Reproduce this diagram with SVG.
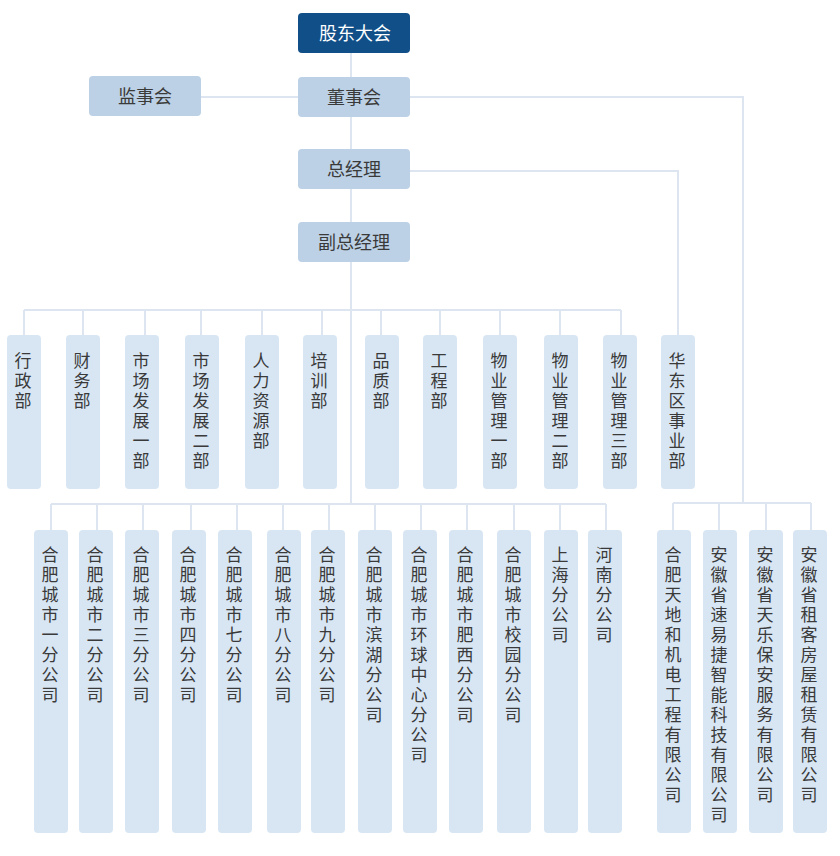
<svg xmlns="http://www.w3.org/2000/svg" width="840" height="856" viewBox="0 0 840 856">
<style>
.ln{stroke:#dde6f0;stroke-width:2;fill:none}
.top{fill:#bcd1e5}
.dark{fill:#114f88}
.bx{fill:#d8e6f4}
text{font-family:"Noto Sans CJK SC","Noto Sans",sans-serif;font-size:18px;fill:#3a3a3a;text-anchor:middle}
.w{fill:#ffffff}
.v{writing-mode:vertical-rl;text-anchor:start;letter-spacing:3px;font-size:17px}
</style>
<rect width="840" height="856" fill="#ffffff"/>
<g id="connectors">
<path class="ln" d="M351 53V504"/>
<path class="ln" d="M201 97H298"/>
<path class="ln" d="M410 97H743V503"/>
<path class="ln" d="M410 171H678V335"/>
<path class="ln" d="M24 310H621"/>
<path class="ln" d="M24 310V335M83 310V335M145 310V335M201 310V335M262 310V335M322 310V335M381 310V335M440 310V335M500 310V335M560 310V335M621 310V335"/>
<path class="ln" d="M51 504H606"/>
<path class="ln" d="M51 504V530M97 504V530M143 504V530M191 504V530M237 504V530M283 504V530M329 504V530M375 504V530M421 504V530M467 504V530M514 504V530M560 504V530M606 504V530"/>
<path class="ln" d="M673 503H811"/>
<path class="ln" d="M673 503V530M719 503V530M766 503V530M811 503V530"/>
</g>
<g id="n-gudong"><rect class="dark" x="298" y="13" width="112" height="40" rx="4"/><text class="w" x="355" y="40">股东大会</text></g>
<g id="n-jianshi"><rect class="top" x="89" y="76" width="112" height="40" rx="4"/><text x="145" y="103">监事会</text></g>
<g id="n-dongshi"><rect class="top" x="298" y="77" width="112" height="40" rx="4"/><text x="354" y="104">董事会</text></g>
<g id="n-zongjingli"><rect class="top" x="298" y="149" width="112" height="40" rx="4"/><text x="354" y="176">总经理</text></g>
<g id="n-fuzong"><rect class="top" x="298" y="222" width="112" height="40" rx="4"/><text x="354" y="249">副总经理</text></g>

<g id="d1"><rect class="bx" x="7" y="335" width="34" height="154" rx="4"/><text class="v" x="23" y="352">行政部</text></g>
<g id="d2"><rect class="bx" x="66" y="335" width="34" height="154" rx="4"/><text class="v" x="82" y="352">财务部</text></g>
<g id="d3"><rect class="bx" x="125" y="335" width="34" height="154" rx="4"/><text class="v" x="141" y="352">市场发展一部</text></g>
<g id="d4"><rect class="bx" x="185" y="335" width="34" height="154" rx="4"/><text class="v" x="201" y="352">市场发展二部</text></g>
<g id="d5"><rect class="bx" x="245" y="335" width="34" height="154" rx="4"/><text class="v" x="261" y="352">人力资源部</text></g>
<g id="d6"><rect class="bx" x="303" y="335" width="34" height="154" rx="4"/><text class="v" x="319" y="352">培训部</text></g>
<g id="d7"><rect class="bx" x="365" y="335" width="34" height="154" rx="4"/><text class="v" x="381" y="352">品质部</text></g>
<g id="d8"><rect class="bx" x="423" y="335" width="34" height="154" rx="4"/><text class="v" x="439" y="352">工程部</text></g>
<g id="d9"><rect class="bx" x="483" y="335" width="34" height="154" rx="4"/><text class="v" x="499" y="352">物业管理一部</text></g>
<g id="d10"><rect class="bx" x="544" y="335" width="34" height="154" rx="4"/><text class="v" x="560" y="352">物业管理二部</text></g>
<g id="d11"><rect class="bx" x="603" y="335" width="34" height="154" rx="4"/><text class="v" x="619" y="352">物业管理三部</text></g>
<g id="d12"><rect class="bx" x="661" y="335" width="34" height="154" rx="4"/><text class="v" x="677" y="352">华东区事业部</text></g>

<g id="b1"><rect class="bx" x="34" y="530" width="34" height="303" rx="4"/><text class="v" x="50" y="546">合肥城市一分公司</text></g>
<g id="b2"><rect class="bx" x="79" y="530" width="34" height="303" rx="4"/><text class="v" x="95" y="546">合肥城市二分公司</text></g>
<g id="b3"><rect class="bx" x="125" y="530" width="34" height="303" rx="4"/><text class="v" x="141" y="546">合肥城市三分公司</text></g>
<g id="b4"><rect class="bx" x="172" y="530" width="34" height="303" rx="4"/><text class="v" x="188" y="546">合肥城市四分公司</text></g>
<g id="b5"><rect class="bx" x="218" y="530" width="34" height="303" rx="4"/><text class="v" x="234" y="546">合肥城市七分公司</text></g>
<g id="b6"><rect class="bx" x="267" y="530" width="34" height="303" rx="4"/><text class="v" x="283" y="546">合肥城市八分公司</text></g>
<g id="b7"><rect class="bx" x="311" y="530" width="34" height="303" rx="4"/><text class="v" x="327" y="546">合肥城市九分公司</text></g>
<g id="b8"><rect class="bx" x="358" y="530" width="34" height="303" rx="4"/><text class="v" x="374" y="546">合肥城市滨湖分公司</text></g>
<g id="b9"><rect class="bx" x="403" y="530" width="34" height="303" rx="4"/><text class="v" x="419" y="546">合肥城市环球中心分公司</text></g>
<g id="b10"><rect class="bx" x="449" y="530" width="34" height="303" rx="4"/><text class="v" x="465" y="546">合肥城市肥西分公司</text></g>
<g id="b11"><rect class="bx" x="497" y="530" width="34" height="303" rx="4"/><text class="v" x="513" y="546">合肥城市校园分公司</text></g>
<g id="b12"><rect class="bx" x="544" y="530" width="34" height="303" rx="4"/><text class="v" x="560" y="546">上海分公司</text></g>
<g id="b13"><rect class="bx" x="588" y="530" width="34" height="303" rx="4"/><text class="v" x="604" y="546">河南分公司</text></g>

<g id="c1"><rect class="bx" x="657" y="530" width="34" height="303" rx="4"/><text class="v" x="673" y="546">合肥天地和机电工程有限公司</text></g>
<g id="c2"><rect class="bx" x="703" y="530" width="34" height="303" rx="4"/><text class="v" x="719" y="546">安徽省速易捷智能科技有限公司</text></g>
<g id="c3"><rect class="bx" x="749" y="530" width="34" height="303" rx="4"/><text class="v" x="765" y="546">安徽省天乐保安服务有限公司</text></g>
<g id="c4"><rect class="bx" x="793" y="530" width="34" height="303" rx="4"/><text class="v" x="809" y="546">安徽省租客房屋租赁有限公司</text></g>
</svg>
